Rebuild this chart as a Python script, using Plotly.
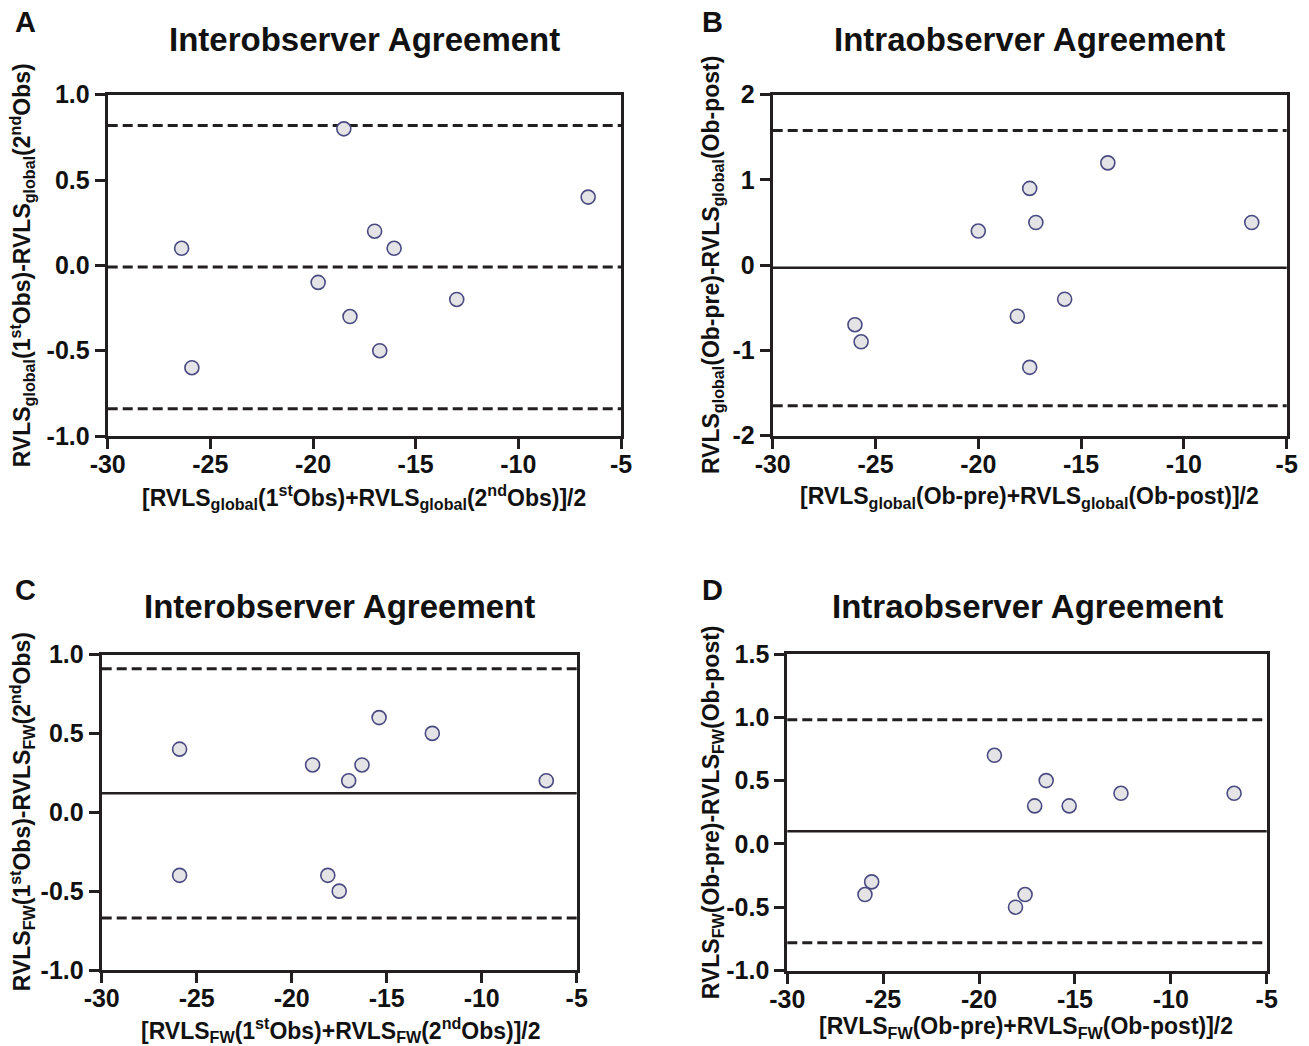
import plotly.graph_objects as go

# ---------------- data ----------------
A_x = [-18.5, -6.6, -17.0, -16.05, -26.4, -19.75, -13.0, -18.2, -16.75, -25.9]
A_y = [0.8, 0.4, 0.2, 0.1, 0.1, -0.1, -0.2, -0.3, -0.5, -0.6]
A_mean, A_upper, A_lower = -0.01, 0.82, -0.84

B_x = [-13.7, -17.5, -17.2, -6.7, -20.0, -15.8, -18.1, -26.0, -25.7, -17.5]
B_y = [1.2, 0.9, 0.5, 0.5, 0.4, -0.4, -0.6, -0.7, -0.9, -1.2]
B_mean, B_upper, B_lower = -0.03, 1.58, -1.65

C_x = [-15.4, -12.6, -25.9, -18.9, -16.3, -17.0, -6.6, -25.9, -18.1, -17.5]
C_y = [0.6, 0.5, 0.4, 0.3, 0.3, 0.2, 0.2, -0.4, -0.4, -0.5]
C_mean, C_upper, C_lower = 0.12, 0.91, -0.67

D_x = [-19.2, -16.5, -12.6, -6.7, -17.1, -15.3, -25.6, -25.95, -17.6, -18.1]
D_y = [0.7, 0.5, 0.4, 0.4, 0.3, 0.3, -0.3, -0.4, -0.4, -0.5]
D_mean, D_upper, D_lower = 0.10, 0.98, -0.78

x_tick_vals = [-30, -25, -20, -15, -10, -5]
x_tick_text = ["-30", "-25", "-20", "-15", "-10", "-5"]
y_tick_vals_A = [-1.0, -0.5, 0.0, 0.5, 1.0]
y_tick_text_A = ["-1.0", "-0.5", "0.0", "0.5", "1.0"]
y_tick_vals_B = [-2, -1, 0, 1, 2]
y_tick_text_B = ["-2", "-1", "0", "1", "2"]
y_tick_vals_D = [-1.0, -0.5, 0.0, 0.5, 1.0, 1.5]
y_tick_text_D = ["-1.0", "-0.5", "0.0", "0.5", "1.0", "1.5"]

titles = ["Interobserver Agreement", "Intraobserver Agreement",
          "Interobserver Agreement", "Intraobserver Agreement"]
letters = ["A", "B", "C", "D"]
x_titles = [
    "[RVLS<sub>global</sub>(1<sup>st</sup>Obs)+RVLS<sub>global</sub>(2<sup>nd</sup>Obs)]/2",
    "[RVLS<sub>global</sub>(Ob-pre)+RVLS<sub>global</sub>(Ob-post)]/2",
    "[RVLS<sub>FW</sub>(1<sup>st</sup>Obs)+RVLS<sub>FW</sub>(2<sup>nd</sup>Obs)]/2",
    "[RVLS<sub>FW</sub>(Ob-pre)+RVLS<sub>FW</sub>(Ob-post)]/2",
]
y_titles = [
    "RVLS<sub>global</sub>(1<sup>st</sup>Obs)-RVLS<sub>global</sub>(2<sup>nd</sup>Obs)",
    "RVLS<sub>global</sub>(Ob-pre)-RVLS<sub>global</sub>(Ob-post)",
    "RVLS<sub>FW</sub>(1<sup>st</sup>Obs)-RVLS<sub>FW</sub>(2<sup>nd</sup>Obs)",
    "RVLS<sub>FW</sub>(Ob-pre)-RVLS<sub>FW</sub>(Ob-post)",
]

# ---------------- layout geometry (pixels) ----------------
W, H = 1309, 1046
boxes = [  # left, right, top, bottom
    (107.7, 621.0, 94.7, 436.0),
    (772.7, 1286.7, 94.7, 435.5),
    (101.7, 576.7, 654.5, 970.0),
    (787.3, 1266.7, 654.0, 970.5),
]

AX = "#231f20"
FONT = "Liberation Sans, Arial, sans-serif"

fig = go.Figure()

panels = [
    (A_x, A_y, A_mean, A_upper, A_lower, [-1, 1], y_tick_vals_A, y_tick_text_A, "dash"),
    (B_x, B_y, B_mean, B_upper, B_lower, [-2, 2], y_tick_vals_B, y_tick_text_B, "solid"),
    (C_x, C_y, C_mean, C_upper, C_lower, [-1, 1], y_tick_vals_A, y_tick_text_A, "solid"),
    (D_x, D_y, D_mean, D_upper, D_lower, [-1, 1.5], y_tick_vals_D, y_tick_text_D, "solid"),
]

annotations = []
shapes = []
for i, (px, py, m, up, lo, yr, ytv, ytt, mean_style) in enumerate(panels):
    n = "" if i == 0 else str(i + 1)
    l, r, t, b = boxes[i]
    xd = [l / W, r / W]
    yd = [1 - b / H, 1 - t / H]
    axis_common = dict(
        showline=True, linecolor=AX, linewidth=3, mirror=True,
        ticks="outside", ticklen=10, tickwidth=3, tickcolor=AX,
        showgrid=False, zeroline=False, automargin=False,
        tickfont=dict(family=FONT, size=25, color="#111", weight="bold"),
    )
    fig.update_layout(**{
        f"xaxis{n}": dict(domain=xd, range=[-30, -5], anchor=f"y{n}",
                          tickvals=x_tick_vals, ticktext=x_tick_text,
                          ticklabelstandoff=-6, **axis_common),
        f"yaxis{n}": dict(domain=yd, range=yr, anchor=f"x{n}",
                          tickvals=ytv, ticktext=ytt, **axis_common),
    })
    # reference lines: mean and limits of agreement
    for val, style in [(up, "dash"), (m, mean_style), (lo, "dash")]:
        shapes.append(dict(
            type="line", xref=f"x{n} domain", yref=f"y{n}", x0=0, x1=1, y0=val, y1=val,
            line=dict(color=AX, width=3 if style == "dash" else 2.5,
                      dash="10px,5px" if style == "dash" else "solid"),
            layer="below",
        ))
    fig.add_trace(go.Scatter(
        x=px, y=py, mode="markers", xaxis=f"x{n}", yaxis=f"y{n}", showlegend=False,
        marker=dict(size=14, color="#e4e4e7", line=dict(color="#4a4a82", width=1.6)),
        cliponaxis=False,
    ))
    cx = (l + r) / 2
    # panel title
    ty = 40 if i < 2 else 606
    annotations.append(dict(
        text=titles[i], x=cx / W, y=1 - ty / H, xref="paper", yref="paper",
        xanchor="center", yanchor="middle", showarrow=False,
        font=dict(family=FONT, size=33, color="#111", weight="bold"),
    ))
    # panel letter
    lx = 25 if i % 2 == 0 else 712
    ly = 22 if i < 2 else 590
    annotations.append(dict(
        text=letters[i], x=lx / W, y=1 - ly / H, xref="paper", yref="paper",
        xanchor="center", yanchor="middle", showarrow=False,
        font=dict(family=FONT, size=29, color="#111", weight="bold"),
    ))
    # x title
    xty = [497, 497, 1030, 1027][i]
    xtx = [364, 1029, 341, 1026][i]
    annotations.append(dict(
        text=x_titles[i], x=xtx / W, y=1 - xty / H, xref="paper", yref="paper",
        xanchor="center", yanchor="middle", showarrow=False,
        font=dict(family=FONT, size=23, color="#111", weight="bold"),
    ))
    # y title
    ytx = [22, 712, 22, 712][i]
    yty = (t + b) / 2
    annotations.append(dict(
        text=y_titles[i], x=ytx / W, y=1 - yty / H, xref="paper", yref="paper",
        xanchor="center", yanchor="middle", showarrow=False, textangle=-90,
        font=dict(family=FONT, size=23, color="#111", weight="bold"),
    ))

fig.update_layout(
    width=W, height=H, margin=dict(l=0, r=0, t=0, b=0, autoexpand=False),
    paper_bgcolor="white", plot_bgcolor="white",
    annotations=annotations, shapes=shapes,
)

fig.write_html("out.html")
